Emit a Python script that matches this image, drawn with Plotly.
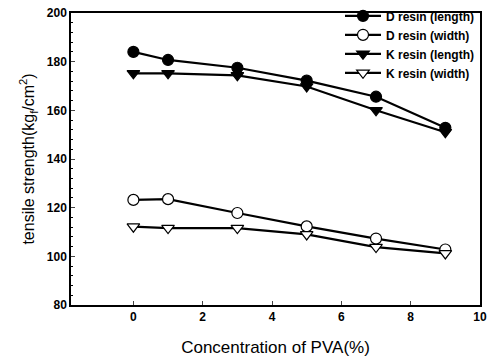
import plotly.graph_objects as go

pva = [0, 1, 3, 5, 7, 9]
d_length = [184, 180.7, 177.5, 172.2, 165.6, 152.8]
d_width = [123.2, 123.5, 117.8, 112.3, 107.3, 102.8]
k_length = [175.2, 175.2, 174.4, 169.8, 160.0, 151.0]
k_width = [112.2, 111.6, 111.6, 109.0, 103.8, 101.2]

names = ["D resin (length)", "D resin (width)", "K resin (length)", "K resin (width)"]
series = [d_length, d_width, k_length, k_width]
symbols = ["circle", "circle-open", "triangle-down", "triangle-down-open"]

fig = go.Figure()
for name, ys, sym in zip(names, series, symbols):
    open_ = "open" in sym
    fig.add_trace(go.Scatter(
        x=pva, y=ys, name=name, mode="lines+markers",
        line=dict(color="black", width=2.2),
        marker=dict(symbol=sym.replace("-open", ""), size=11,
                    color="white" if open_ else "black",
                    line=dict(color="black", width=1.2)),
    ))

font = "Liberation Sans, Arial, sans-serif"
fig.update_layout(
    width=488, height=360,
    margin=dict(l=71, r=8, t=13, b=55, autoexpand=False),
    paper_bgcolor="white", plot_bgcolor="white",
    font=dict(family=font, color="black", weight=700),
    showlegend=True,
    legend=dict(x=1.0, y=1.04, xanchor="right", yanchor="top",
                bgcolor="rgba(0,0,0,0)", font=dict(size=12, family=font, weight=700),
                itemwidth=36, tracegroupgap=0),
    xaxis=dict(range=[-1.8, 10], tickvals=[0, 2, 4, 6, 8, 10], ticks="inside", ticklen=4,
               showline=True, mirror=True, linecolor="black", linewidth=1.5, showgrid=False,
               zeroline=False, tickfont=dict(size=12, family=font, weight=700),
               ticklabeloverflow="allow",
               title=dict(text="Concentration of PVA(%)", font=dict(size=17, family=font, weight=400),
                          standoff=18)),
    yaxis=dict(range=[80, 200], tickvals=[80, 100, 120, 140, 160, 180, 200], ticks="inside",
               ticklen=4, showline=True, mirror=True, linecolor="black", linewidth=1.5,
               showgrid=False, zeroline=False, tickfont=dict(size=12, family=font, weight=700),
               minor=dict(ticks="inside", ticklen=2, dtick=4, tickcolor="black"),
               title=dict(text="tensile strength(kg<sub>f</sub>/cm<sup>2</sup>)",
                          font=dict(size=16, family=font, weight=400), standoff=8)),
)
fig.write_html("out.html", config={"displayModeBar": False},
               post_script="document.body.style.margin='0';")
